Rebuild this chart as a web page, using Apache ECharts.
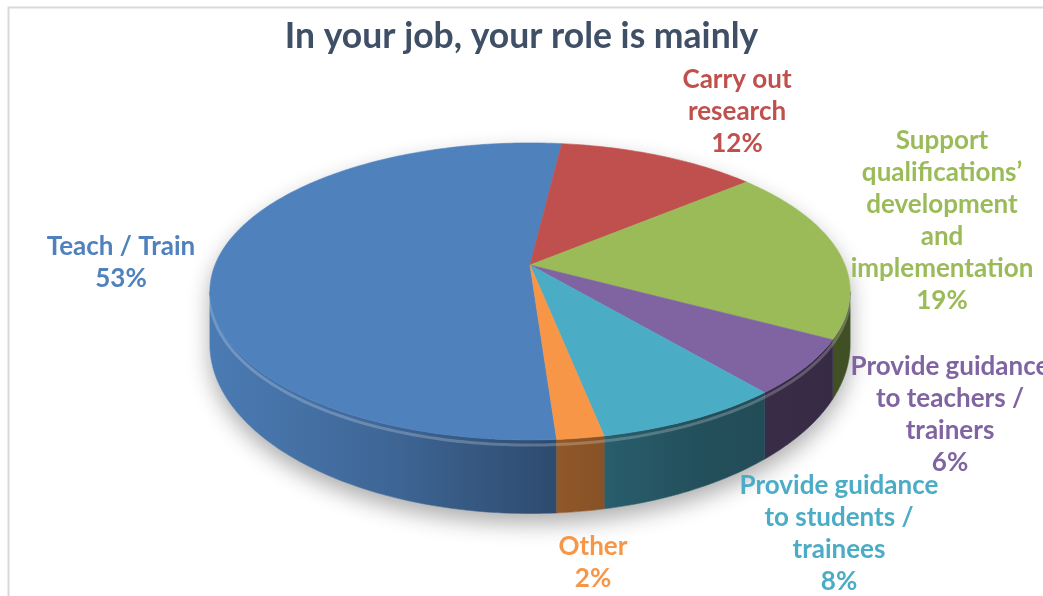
<!DOCTYPE html>
<html>
<head>
<meta charset="utf-8">
<script src="https://cdn.jsdelivr.net/npm/echarts@6/dist/echarts.min.js"></script>
<style>
  html, body { margin: 0; padding: 0; background: #ffffff; }
  #chart { width: 1043px; height: 596px; }
</style>
</head>
<body>
<div id="chart"></div>
<script>
// ---- chart data ----
const titleText = 'In your job, your role is mainly';
const categories = [
  'Teach / Train',
  'Carry out\nresearch',
  'Support\nqualifications\u2019\ndevelopment\nand\nimplementation',
  'Provide guidance\nto teachers /\ntrainers',
  'Provide guidance\nto students /\ntrainees',
  'Other'
];
const values = [53, 12, 19, 6, 8, 2];

// ---- styling ----
const colors = ['#4F81BD', '#C0504D', '#9BBB59', '#8064A2', '#4BACC6', '#F79646'];
const FONT = 'Lato, "Open Sans", sans-serif';

// label block centres, relative to the pie centre
const labelOffsets = [[-409, -2], [207, -153], [412, -44], [420, 150], [309, 269], [63, 298]];

// tilted pie geometry (perspective view of a flat disc with a rim)
const PIE = { cx: 530, cy: 265, R: 315, Ry: 143.8, k: 0.178, depth: 49.7, start: 176 };

function project(deg, rho, drop) {
  const t = deg * Math.PI / 180;
  const u = rho * Math.sin(t), v = rho * Math.cos(t);
  const s = 1 / (1 + PIE.k * v);
  return [PIE.cx + PIE.R * u * s, PIE.cy - PIE.Ry * v * s + drop * PIE.depth * s * s];
}

function arcPoints(a0, a1, rho, drop) {
  const n = Math.max(2, Math.ceil(Math.abs(a1 - a0)));
  const pts = [];
  for (let j = 0; j <= n; j++) pts.push(project(a0 + (a1 - a0) * j / n, rho, drop));
  return pts;
}

function shade(hex, f) {
  const n = parseInt(hex.slice(1), 16);
  const r = Math.round(((n >> 16) & 255) * f);
  const g = Math.round(((n >> 8) & 255) * f);
  const b = Math.round((n & 255) * f);
  return 'rgb(' + r + ',' + g + ',' + b + ')';
}

// slice angles (degrees, clockwise from the far side)
const total = values.reduce((a, b) => a + b, 0);
const slices = [];
let acc = PIE.start;
values.forEach(v => { const span = v / total * 360; slices.push([acc, acc + span]); acc += span; });

// the rim is visible between the two silhouette tangents
const tangent = Math.asin(PIE.k) * 180 / Math.PI;
const VIS = [90 + tangent, 270 - tangent];
const xLeft = project(VIS[1], 1, 0)[0];
const xRight = project(VIS[0], 1, 0)[0];

function visibleParts(a0, a1) {
  const parts = [];
  [-360, 0, 360].forEach(off => {
    const lo = Math.max(a0, VIS[0] + off), hi = Math.min(a1, VIS[1] + off);
    if (hi > lo) parts.push([lo, hi]);
  });
  return parts;
}

function wallFill(color) {
  const stops = [[0, 0.95], [0.27, 0.8], [0.52, 0.6], [0.77, 0.46], [1, 0.42]];
  return new echarts.graphic.LinearGradient(xLeft, 0, xRight, 0,
    stops.map(s => ({ offset: s[0], color: shade(color, s[1]) })), true);
}

function renderItem(params, api) {
  const i = params.dataIndex;
  const [a0, a1] = slices[i];
  const children = [];

  if (i === 0) {
    // soft drop shadow under the whole disc
    const outline = arcPoints(VIS[1], VIS[0] + 360, 1, 0).concat(arcPoints(VIS[0], VIS[1], 1, 1));
    children.push({
      type: 'polygon', z2: 0, shape: { points: outline },
      style: { fill: '#ffffff', shadowBlur: 22, shadowOffsetY: 10, shadowColor: 'rgba(0,0,0,0.32)' }
    });
  }

  visibleParts(a0, a1).forEach(([b0, b1]) => {
    const wall = arcPoints(b0, b1, 1, 0).concat(arcPoints(b1, b0, 1, 1));
    children.push({
      type: 'polygon', z2: 1, shape: { points: wall },
      style: { fill: wallFill(colors[i]), stroke: wallFill(colors[i]), lineWidth: 0.6 }
    });
    // bevel highlight along the upper edge of the rim
    children.push({
      type: 'polyline', z2: 2, shape: { points: arcPoints(b0, b1, 1, 0.07) },
      style: { fill: null, stroke: 'rgba(255,255,255,0.22)', lineWidth: 3 }
    });
  });

  const top = [[PIE.cx, PIE.cy]].concat(arcPoints(a0, a1, 1, 0));
  children.push({
    type: 'polygon', z2: 5, shape: { points: top },
    style: { fill: colors[i], stroke: colors[i], lineWidth: 0.6 }
  });

  const pct = Math.round(values[i] / total * 100);
  children.push({
    type: 'text', z2: 10,
    x: PIE.cx + labelOffsets[i][0], y: PIE.cy + labelOffsets[i][1],
    style: {
      text: categories[i] + '\n' + pct + '%',
      fill: colors[i], fontFamily: FONT, fontWeight: 'bold', fontSize: 26,
      lineHeight: 32, align: 'center', verticalAlign: 'middle'
    }
  });

  return { type: 'group', children: children };
}

const chart = echarts.init(document.getElementById('chart'), null, { renderer: 'canvas' });
chart.setOption({
  backgroundColor: '#ffffff',
  animation: false,
  title: {
    text: titleText, left: 'center', top: 19, padding: [0, 0, 0, 13],
    textStyle: { fontFamily: FONT, fontWeight: 'bold', fontSize: 35.5, color: '#3F4F66' }
  },
  graphic: [{
    type: 'rect', left: 6, top: 5, z: -1,
    shape: { x: 0, y: 0, width: 1200, height: 800 },
    style: { fill: null, stroke: '#d9d9d9', lineWidth: 2 }
  }],
  series: [{
    type: 'custom',
    coordinateSystem: 'none',
    renderItem: renderItem,
    data: values.map((v, i) => ({ name: categories[i], value: v }))
  }]
});
</script>
</body>
</html>
